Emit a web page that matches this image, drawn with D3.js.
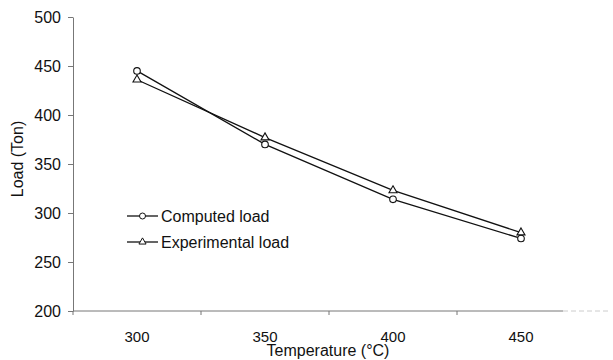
<!DOCTYPE html>
<html>
<head>
<meta charset="utf-8">
<script src="https://cdn.jsdelivr.net/npm/d3@7"></script>
<style>
  body { margin: 0; background: #fff; }
  svg { display: block; font-family: "Liberation Sans", Arial, sans-serif; }
</style>
</head>
<body>
<div id="chart"></div>
<script>
// Data
const temperatures = [300, 350, 400, 450];
const computedLoad = [445, 370, 314, 274];
const experimentalLoad = [436, 377, 323, 280];
const yTicks = [200, 250, 300, 350, 400, 450, 500];

const W = 613, H = 360;
const plotLeft = 73, plotTop = 17, plotBottom = 311;

const svg = d3.select("#chart").append("svg")
    .attr("width", W)
    .attr("height", H);

const x = d3.scaleBand()
    .domain(temperatures)
    .range([plotLeft, plotLeft + 128 * 4]);

const y = d3.scaleLinear()
    .domain([200, 500])
    .range([plotBottom, plotTop]);

const axisColor = "#777";

// Y axis
const yAxis = svg.append("g")
    .attr("transform", `translate(${plotLeft},0)`)
    .call(d3.axisLeft(y).tickValues(yTicks).tickSize(5).tickSizeOuter(0));
yAxis.select(".domain").attr("stroke", axisColor);
yAxis.selectAll(".tick line").attr("stroke", axisColor);
yAxis.selectAll("text")
    .attr("x", -12)
    .style("font-size", "16px")
    .style("fill", "#111");

// X axis (ticks at band edges, labels at band centres)
const xAxis = svg.append("g").attr("transform", `translate(0,${plotBottom})`);
xAxis.append("line")
    .attr("x1", plotLeft).attr("x2", 563)
    .attr("stroke", axisColor);
xAxis.append("line")
    .attr("x1", 563).attr("x2", 611)
    .attr("stroke", "#ccc")
    .attr("stroke-dasharray", "5,3");
xAxis.selectAll(".xtick")
    .data(temperatures)
    .join("line")
    .attr("x1", d => x(d)).attr("x2", d => x(d))
    .attr("y1", 0).attr("y2", 4)
    .attr("stroke", axisColor);
xAxis.selectAll(".xlabel")
    .data(temperatures)
    .join("text")
    .attr("x", d => x(d) + x.bandwidth() / 2)
    .attr("y", 31)
    .attr("text-anchor", "middle")
    .style("font-size", "15px")
    .style("fill", "#111")
    .text(d => d);

// Axis titles
svg.append("text")
    .attr("x", 328)
    .attr("y", 356)
    .attr("text-anchor", "middle")
    .style("font-size", "16px")
    .style("fill", "#111")
    .text("Temperature (°C)");

svg.append("text")
    .attr("transform", "rotate(-90)")
    .attr("x", -159)
    .attr("y", 23)
    .attr("text-anchor", "middle")
    .style("font-size", "16px")
    .style("fill", "#111")
    .text("Load (Ton)");

// Lines
const cx = d => x(d) + x.bandwidth() / 2;
const line = d3.line()
    .x((d, i) => cx(temperatures[i]))
    .y(d => y(d));

[computedLoad, experimentalLoad].forEach(series => {
    svg.append("path")
        .datum(series)
        .attr("d", line)
        .attr("fill", "none")
        .attr("stroke", "#111")
        .attr("stroke-width", 1.3);
});

const triangle = d3.symbol().type(d3.symbolTriangle).size(28);

svg.selectAll(".comp")
    .data(computedLoad)
    .join("circle")
    .attr("cx", (d, i) => cx(temperatures[i]))
    .attr("cy", d => y(d))
    .attr("r", 3.3)
    .attr("fill", "#fff")
    .attr("stroke", "#111")
    .attr("stroke-width", 1.1);

svg.selectAll(".exp")
    .data(experimentalLoad)
    .join("path")
    .attr("d", triangle)
    .attr("transform", (d, i) => `translate(${cx(temperatures[i])},${y(d)})`)
    .attr("fill", "#fff")
    .attr("stroke", "#111")
    .attr("stroke-width", 1.1);

// Legend
const legend = svg.append("g").attr("transform", "translate(127,216)");
const legendItems = [
    { name: "Computed load", mark: "circle" },
    { name: "Experimental load", mark: "triangle" }
];
legendItems.forEach((item, i) => {
    const g = legend.append("g").attr("transform", `translate(0,${i * 26})`);
    g.append("line")
        .attr("x1", 0).attr("x2", 31)
        .attr("stroke", "#111")
        .attr("stroke-width", 1.3);
    if (item.mark === "circle") {
        g.append("circle")
            .attr("cx", 15.5).attr("r", 3)
            .attr("fill", "#fff").attr("stroke", "#111");
    } else {
        g.append("path")
            .attr("d", d3.symbol().type(d3.symbolTriangle).size(22))
            .attr("transform", "translate(15.5,0)")
            .attr("fill", "#fff").attr("stroke", "#111");
    }
    g.append("text")
        .attr("x", 34)
        .attr("y", 6)
        .style("font-size", "16px")
        .style("fill", "#111")
        .text(item.name);
});
</script>
</body>
</html>
